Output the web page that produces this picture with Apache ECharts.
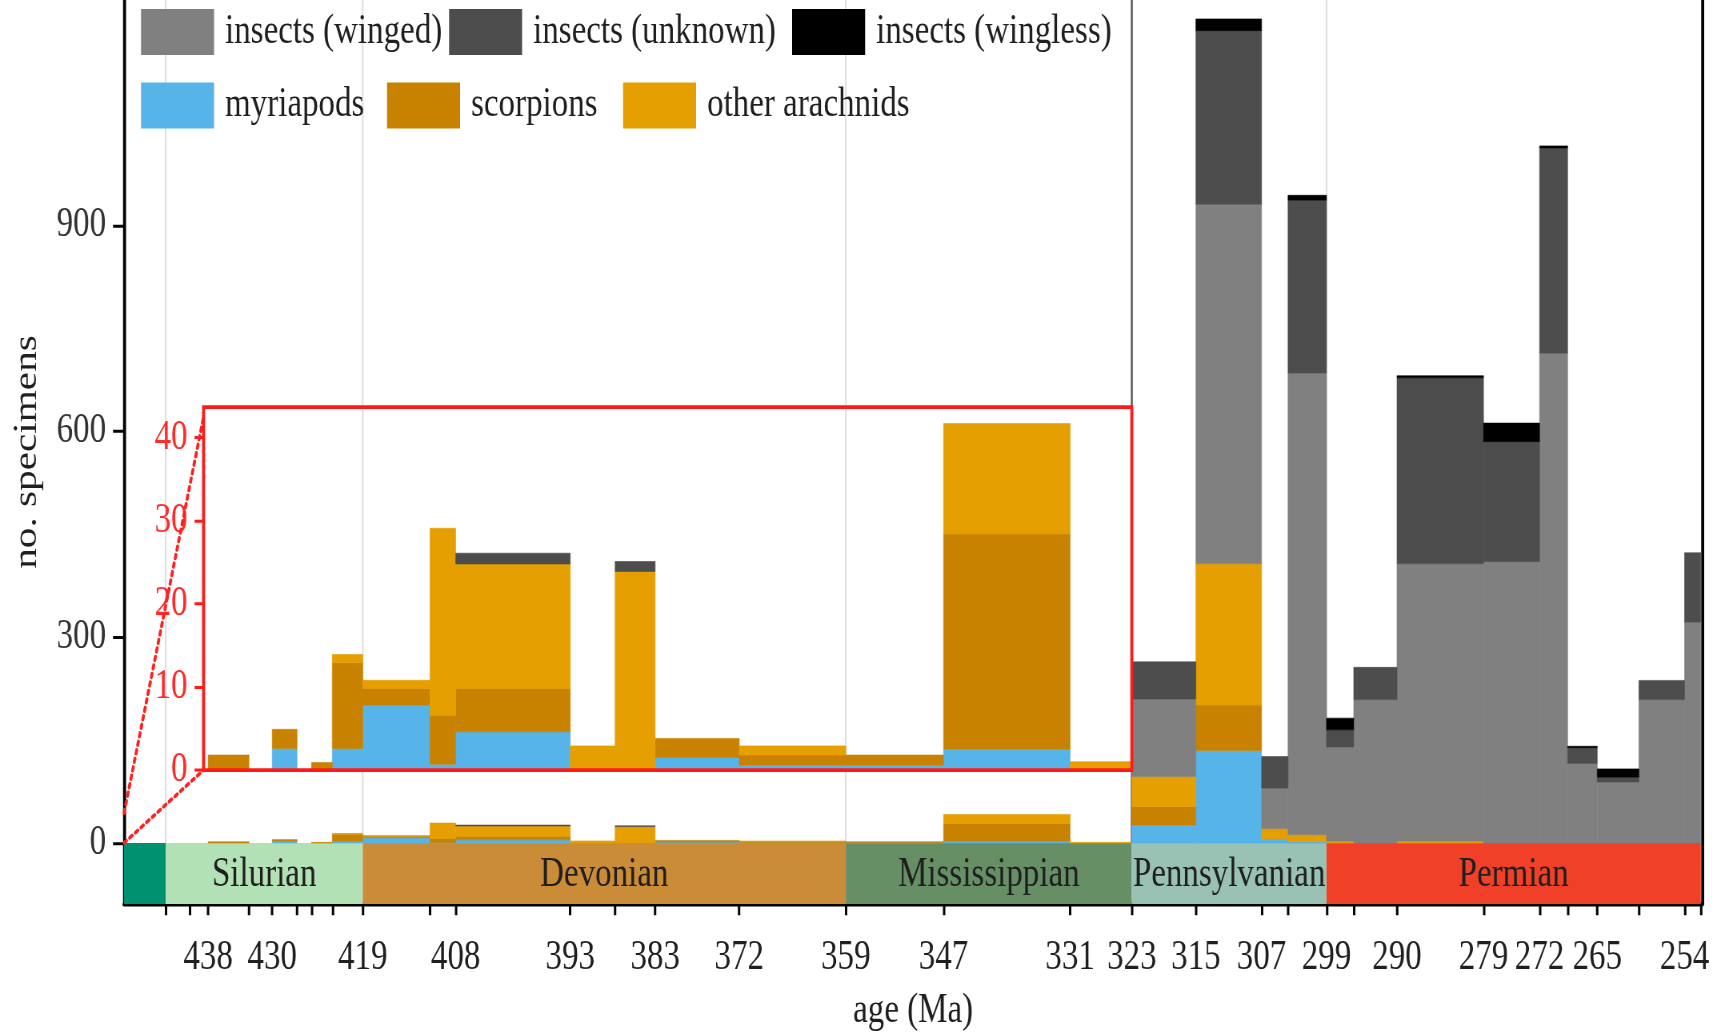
<!DOCTYPE html>
<html><head><meta charset="utf-8">
<script src="https://cdn.jsdelivr.net/npm/echarts@6/dist/echarts.min.js"></script>
<style>
html,body{margin:0;padding:0;width:1725px;height:1035px;overflow:hidden;background:#fff;}
#chart{width:1725px;transform-origin:0 0;}
</style></head>
<body><div id="chart"></div>
<script>
// ================= DATA =================
// stage bins (Ma, GTS2012), oldest first
const binStart = [438.5, 430.5, 425.6, 423.0, 419.2, 410.8, 407.6, 393.3, 387.7, 382.7, 372.2, 358.9, 346.7, 330.9, 323.2, 315.2, 307.0, 303.7, 298.9, 295.5, 290.1, 279.3, 272.3, 268.8, 265.1, 259.9, 254.2];
const binEnd   = [433.4, 427.4, 423.0, 419.2, 410.8, 407.6, 393.3, 387.7, 382.7, 372.2, 358.9, 346.7, 330.9, 323.2, 315.2, 307.0, 303.7, 298.9, 295.5, 290.1, 279.3, 272.3, 268.8, 265.1, 259.9, 254.2, 252.17];

const myriapods        = [0, 2.6, 0, 2.6, 7.8, 0.7, 4.6, 0, 0, 1.5, 0.6, 0.6, 2.5, 0, 26, 135, 6, 2, 0, 0, 0, 0, 0, 0, 0, 0, 0];
const scorpions        = [1.8, 2.3, 0.9, 10.3, 2.0, 5.9, 5.2, 0, 0, 2.3, 1.2, 1.2, 25.9, 0, 27, 66, 0, 0, 0, 0, 0, 0, 0, 0, 0, 0, 0];
const otherArachnids   = [0, 0, 0, 1.0, 1.0, 22.5, 15.0, 2.9, 23.9, 0, 1.1, 0, 13.3, 1.0, 44, 206, 15, 10, 3, 0, 3, 0, 0, 0, 0, 0, 0];
const insectsWinged    = [0, 0, 0, 0, 0, 0, 0, 0, 0, 0, 0, 0, 0, 0, 113, 524, 59, 673, 137, 209, 404, 410, 714, 116, 89, 209, 322];
const insectsUnknown   = [0, 0, 0, 0, 0, 0, 1.3, 0, 1.2, 0, 0, 0, 0, 0, 54, 253, 46, 252, 25, 47, 271, 175, 299, 23, 7, 28, 101];
const insectsWingless  = [0, 0, 0, 0, 0, 0, 0, 0, 0, 0, 0, 0, 0, 0, 0, 17, 0, 7, 17, 0, 3, 27, 3, 2, 12, 0, 0];

// geological periods
const periodNames = ['Ordovician', 'Silurian', 'Devonian', 'Mississippian', 'Pennsylvanian', 'Permian'];
const periodStart = [485.4, 443.8, 419.2, 358.9, 323.2, 298.9];
const periodEnd   = [443.8, 419.2, 358.9, 323.2, 298.9, 252.17];

// axis ticks and labels
const tickAges   = [443.8, 440.8, 438.5, 433.4, 430.5, 427.4, 425.6, 423.0, 419.2, 410.8, 407.6, 393.3, 387.7, 382.7, 372.2, 358.9, 346.7, 330.9, 323.2, 315.2, 307.0, 303.7, 298.9, 295.5, 290.1, 279.3, 272.3, 268.8, 265.1, 259.9, 254.2, 252.17];
const labelAges  = [438.5, 430.5, 419.2, 407.6, 393.3, 382.7, 372.2, 358.9, 346.7, 330.9, 323.2, 315.2, 307.0, 298.9, 290.1, 279.3, 272.3, 265.1, 254.2];
const labelTexts = ['438', '430', '419', '408', '393', '383', '372', '359', '347', '331', '323', '315', '307', '299', '290', '279', '272', '265', '254'];
const yTicks     = [0, 300, 600, 900];
const insetTicks = [0, 10, 20, 30, 40];

// ================= STYLE / LAYOUT =================
const groupNames  = ['myriapods', 'scorpions', 'other arachnids', 'insects (winged)', 'insects (unknown)', 'insects (wingless)'];
const groupValues = [myriapods, scorpions, otherArachnids, insectsWinged, insectsUnknown, insectsWingless];
const groupColors = ['#56B4E9', '#C98200', '#E69F00', '#808080', '#4D4D4D', '#000000'];
const periodColors = ['#009270', '#B3E1B6', '#CB8C37', '#678F66', '#99C2B5', '#F04028'];
const legendOrder = ['insects (winged)', 'insects (unknown)', 'insects (wingless)', 'myriapods', 'scorpions', 'other arachnids'];
const legendPos = [[141, 9], [449, 9], [792, 9], [141, 82.5], [387, 82.5], [623, 82.5]];

const S = 1.25;                 // vertical stretch of the whole figure
const H = 1035 / S;
const FONT = 'Liberation Serif';
const FS = 33;
const TXT = '#1f1f1f';
const plotLeft = 124, plotRight = 1702;
const xMin = 252.0, xMax = 449.0;
const kx = (plotRight - plotLeft) / (xMax - xMin);
const zeroY = 843, bottomY = 904, y900 = 225.5;   // full-size pixel rows
const upp = 900 / (zeroY - y900);
const yMax = zeroY * upp;
const yMin = -(bottomY - zeroY) * upp;
const insetAgeMin = 323.2, insetAgeMax = 439.07;
const insetTopPx = 407, insetBottomPx = 770;
const insetYMax = 43.7;
const insetLeft = plotLeft + (xMax - insetAgeMax) * kx;
const insetWidth = (insetAgeMax - insetAgeMin) * kx;
const INSET_X = 1, INSET_Y = 2;

const dom = document.getElementById('chart');
dom.style.height = H + 'px';
dom.style.transform = 'scaleY(' + S + ')';
const chart = echarts.init(dom, null, {renderer: 'canvas', devicePixelRatio: S});

function clipRect(x0, y0, x1, y1, cs) {
  return echarts.graphic.clipRectByRect(
    {x: Math.min(x0, x1), y: Math.min(y0, y1), width: Math.abs(x1 - x0), height: Math.abs(y1 - y0)},
    {x: cs.x, y: cs.y, width: cs.width, height: cs.height});
}
function barItem(params, api) {
  const a = api.coord([api.value(0), api.value(3)]);
  const b = api.coord([api.value(1), api.value(2)]);
  const r = clipRect(a[0], a[1], b[0], b[1], params.coordSys);
  if (!r) return;
  const c = api.visual('color');
  return {type: 'rect', shape: r, style: {fill: c, stroke: c, lineWidth: 0.5}};
}

// stacked segments
const stackTop = binStart.map(() => 0);
const series = [];
groupValues.forEach((vals, g) => {
  const data = [];
  vals.forEach((v, i) => {
    const lo = stackTop[i], hi = lo + v;
    stackTop[i] = hi;
    if (v > 0) data.push([binStart[i], binEnd[i], lo, hi]);
  });
  series.push({
    type: 'custom', name: groupNames[g], xAxisIndex: 0, yAxisIndex: 0, z: 3,
    itemStyle: {color: groupColors[g]}, data: data,
    encode: {x: [0, 1], y: [2, 3]}, renderItem: barItem, silent: true
  });
  series.push({
    type: 'custom', name: groupNames[g], xAxisIndex: INSET_X, yAxisIndex: INSET_Y, z: 7,
    itemStyle: {color: groupColors[g]},
    data: data.filter(d => d[1] >= insetAgeMin - 0.01),
    encode: {x: [0, 1], y: [2, 3]}, renderItem: barItem, silent: true
  });
});

// period band
series.push({
  type: 'custom', xAxisIndex: 0, yAxisIndex: 0, z: 2, silent: true,
  data: periodNames.map((n, i) => [periodStart[i], periodEnd[i], i]),
  encode: {x: [0, 1]},
  renderItem(params, api) {
    const i = api.value(2);
    const a = api.coord([api.value(0), 0]);
    const b = api.coord([api.value(1), yMin]);
    const r = clipRect(a[0], a[1], b[0], b[1], params.coordSys);
    if (!r) return;
    const children = [{type: 'rect', shape: r, style: {fill: periodColors[i]}}];
    if (r.width > 150) {
      children.push({type: 'text', style: {
        text: periodNames[i], x: r.x + r.width / 2, y: r.y + r.height / 2 + 1.5,
        align: 'center', verticalAlign: 'middle', textAlign: 'center', textVerticalAlign: 'middle',
        font: FS + 'px "' + FONT + '"', fill: TXT}});
    }
    return {type: 'group', children: children};
  }
});

// period boundary guide lines (main and inset)
const boundaries = periodEnd.filter(a => a > xMin + 1 && a < xMax);
series.push({
  type: 'custom', xAxisIndex: 0, yAxisIndex: 0, z: 1, silent: true,
  data: boundaries.map(a => [a, 0]), encode: {x: 0, y: 1},
  renderItem(params, api) {
    const age = api.value(0);
    const p0 = api.coord([age, 0]), p1 = api.coord([age, yMax]);
    const dark = Math.abs(age - insetAgeMin) < 0.01;
    return {type: 'line', shape: {x1: p0[0], y1: p0[1], x2: p1[0], y2: p1[1]},
      style: {stroke: dark ? '#5c5c5c' : '#dedede', lineWidth: dark ? 2 : 1.6}};
  }
});
series.push({
  type: 'custom', xAxisIndex: INSET_X, yAxisIndex: INSET_Y, z: 6, silent: true,
  data: boundaries.filter(a => a > insetAgeMin + 0.01 && a < insetAgeMax).map(a => [a, 0]), encode: {x: 0, y: 1},
  renderItem(params, api) {
    const age = api.value(0);
    const p0 = api.coord([age, 0]), p1 = api.coord([age, insetYMax]);
    return {type: 'line', shape: {x1: p0[0], y1: p0[1], x2: p1[0], y2: p1[1]},
      style: {stroke: '#dedede', lineWidth: 1.6}};
  }
});

const option = {
  animation: false,
  backgroundColor: '#fff',
  grid: [
    {left: plotLeft, width: plotRight - plotLeft, top: 0, height: bottomY / S, outerBoundsMode: 'none', containLabel: false},
    {left: insetLeft, width: insetWidth, top: insetTopPx / S, height: (insetBottomPx - insetTopPx) / S,
     show: true, backgroundColor: '#fff', borderWidth: 0, z: 5, outerBoundsMode: 'none', containLabel: false}
  ],
  xAxis: [
    {gridIndex: 0, type: 'value', min: xMin, max: xMax, inverse: true,
     name: 'age (Ma)', nameLocation: 'middle', nameGap: 69.5,
     nameTextStyle: {fontFamily: FONT, fontSize: FS, color: TXT},
     axisLine: {show: true, onZero: false, lineStyle: {color: '#000', width: 3.2}},
     axisTick: {show: true, customValues: tickAges, length: 9, lineStyle: {color: '#000', width: 2.4}},
     axisLabel: {show: true, customValues: labelAges, hideOverlap: false,
       formatter: v => { let k = 0, best = 1e9; labelAges.forEach((a, i) => { const d = Math.abs(a - v); if (d < best) { best = d; k = i; } }); return labelTexts[k]; },
       margin: 26.5, fontFamily: FONT, fontSize: FS, color: TXT},
     splitLine: {show: false}},
    {gridIndex: 1, type: 'value', min: insetAgeMin, max: insetAgeMax, inverse: true, show: false,
     axisLine: {onZero: false}, splitLine: {show: false}}
  ],
  yAxis: [
    {gridIndex: 0, type: 'value', min: yMin, max: yMax,
     name: 'no. specimens', nameLocation: 'middle', nameGap: 80,
     nameTextStyle: {fontFamily: FONT, fontSize: FS, color: TXT},
     axisLine: {show: true, onZero: false, lineStyle: {color: '#000', width: 3}},
     axisTick: {show: true, customValues: yTicks, length: 11, lineStyle: {color: '#000', width: 2.4}},
     axisLabel: {show: true, customValues: yTicks, margin: 18, fontFamily: FONT, fontSize: FS, color: '#333'},
     splitLine: {show: false}},
    {gridIndex: 0, type: 'value', min: yMin, max: yMax, position: 'right',
     axisLine: {show: true, onZero: false, lineStyle: {color: '#000', width: 3}},
     axisTick: {show: false}, axisLabel: {show: false}, splitLine: {show: false}},
    {gridIndex: 1, type: 'value', min: 0, max: insetYMax, z: 8,
     axisLine: {show: false, onZero: false},
     axisTick: {show: true, customValues: insetTicks, length: 9, lineStyle: {color: '#ff1a1a', width: 2.4}},
     axisLabel: {show: true, customValues: insetTicks, margin: 16, fontFamily: FONT, fontSize: FS, color: '#ff2a2a'},
     splitLine: {show: false}}
  ],
  legend: legendOrder.map((n, i) => ({
    data: [n], left: legendPos[i][0], top: legendPos[i][1] / S, orient: 'horizontal',
    itemWidth: 73, itemHeight: 46 / S, icon: 'rect', padding: 0,
    textStyle: {fontFamily: FONT, fontSize: FS, color: TXT, padding: [8, 0, 0, 6]}
  })),
  series: series
};
chart.setOption(option);

// zoom connector lines and inset frame
const m0 = chart.convertToPixel({xAxisIndex: 0, yAxisIndex: 0}, [xMax, 0]);
const m1 = chart.convertToPixel({xAxisIndex: 0, yAxisIndex: 0}, [xMax, insetYMax]);
const i0 = chart.convertToPixel({xAxisIndex: INSET_X, yAxisIndex: INSET_Y}, [insetAgeMax, 0]);
const i1 = chart.convertToPixel({xAxisIndex: INSET_X, yAxisIndex: INSET_Y}, [insetAgeMax, 42.5]);
chart.setOption({graphic: [
  {type: 'line', z: 100, silent: true, shape: {x1: m0[0], y1: m0[1], x2: i0[0], y2: i0[1]},
   style: {stroke: '#ff2020', lineWidth: 3, lineDash: [3, 4], lineCap: 'round'}},
  {type: 'line', z: 100, silent: true, shape: {x1: m1[0], y1: m1[1], x2: i1[0], y2: i1[1]},
   style: {stroke: '#ff2020', lineWidth: 3, lineDash: [3, 4], lineCap: 'round'}},
  {type: 'rect', z: 100, silent: true,
   shape: {x: insetLeft, y: insetTopPx / S, width: insetWidth, height: (insetBottomPx - insetTopPx) / S},
   style: {fill: null, stroke: '#ff1a1a', lineWidth: 3}}
]});
</script>
</body></html>
